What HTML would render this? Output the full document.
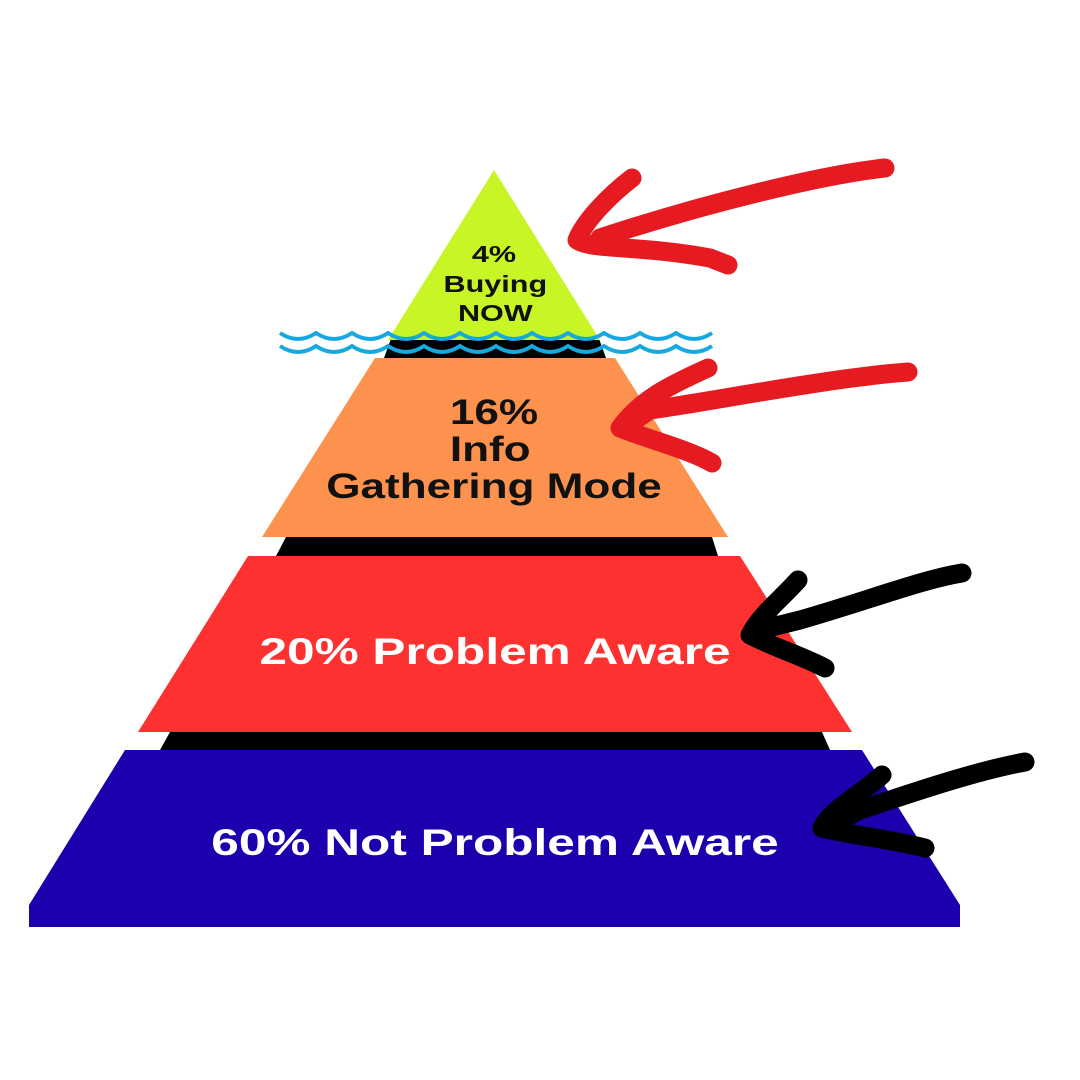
<!DOCTYPE html>
<html><head><meta charset="utf-8"><style>
html,body{margin:0;padding:0;background:#fff;}
svg{display:block;}
text{font-family:"Liberation Sans",sans-serif;font-weight:bold;text-anchor:middle;}
</style></head><body>
<svg width="1080" height="1080" viewBox="0 0 1080 1080">
<rect width="1080" height="1080" fill="#fff"/>
<polygon points="392,336 598,336 606,358 384,358" fill="#000"/>
<polygon points="286,537 712,537 718,556 276,556" fill="#000"/>
<polygon points="170,732 822,732 830,750 160,750" fill="#000"/>
<polygon points="494,170 388,340 600,340" fill="#c8f526"/>
<polygon points="375,358 615,358 728,537 262,537" fill="#fd924e"/>
<polygon points="248,556 740,556 852,732 138,732" fill="#fe3131"/>
<polygon points="125,750 862,750 960,905 960,927 29,927 29,905" fill="#1b00ad"/>
<g fill="none" stroke="#17a8de" stroke-width="4">
<path d="M280,333 q18,12 36,0 q18,12 36,0 q18,12 36,0 q18,12 36,0 q18,12 36,0 q18,12 36,0 q18,12 36,0 q18,12 36,0 q18,12 36,0 q18,12 36,0 q18,12 36,0 q18,12 36,0"/>
<path d="M280,346 q18,12 36,0 q18,12 36,0 q18,12 36,0 q18,12 36,0 q18,12 36,0 q18,12 36,0 q18,12 36,0 q18,12 36,0 q18,12 36,0 q18,12 36,0 q18,12 36,0 q18,12 36,0"/>
</g>
<g fill="#111">
<g transform="translate(494,0) scale(1.33,1)">
<text x="0" y="262" font-size="23">4%</text>
<text x="1" y="292" font-size="23">Buying</text>
<text x="1" y="321" font-size="23">NOW</text>
</g>
<g transform="translate(494,0) scale(1.26,1)">
<text x="0" y="424" font-size="35">16%</text>
<text x="-3" y="461" font-size="35">Info</text>
<text x="0" y="498" font-size="35">Gathering Mode</text>
</g>
</g>
<g fill="#fff" transform="translate(495,0) scale(1.34,1)">
<text x="0" y="664" font-size="37">20% Problem Aware</text>
<text x="0" y="855" font-size="37">60% Not Problem Aware</text>
</g>
<g fill="none" stroke-linecap="round" stroke-linejoin="round">
<g stroke="#e61b22" stroke-width="19">
<path d="M885,168 C820,175 700,205 600,238"/>
<path d="M632,178 C610,195 585,220 577,240 C590,250 640,245 710,258 L728,265"/>
<path d="M908,372 C830,378 720,400 650,410 L625,427"/>
<path d="M708,368 C670,385 640,400 620,428 C650,440 690,450 712,463"/>
</g>
<g stroke="#000" stroke-width="19">
<path d="M962,573 C920,580 870,600 800,620 L752,632"/>
<path d="M798,580 C780,600 760,615 750,635 C775,648 800,655 825,668"/>
<path d="M1025,762 C980,770 920,790 860,810 L825,828"/>
<path d="M882,775 C860,795 830,810 822,828 C850,835 895,840 925,848"/>
</g>
</g>
</svg>
</body></html>
